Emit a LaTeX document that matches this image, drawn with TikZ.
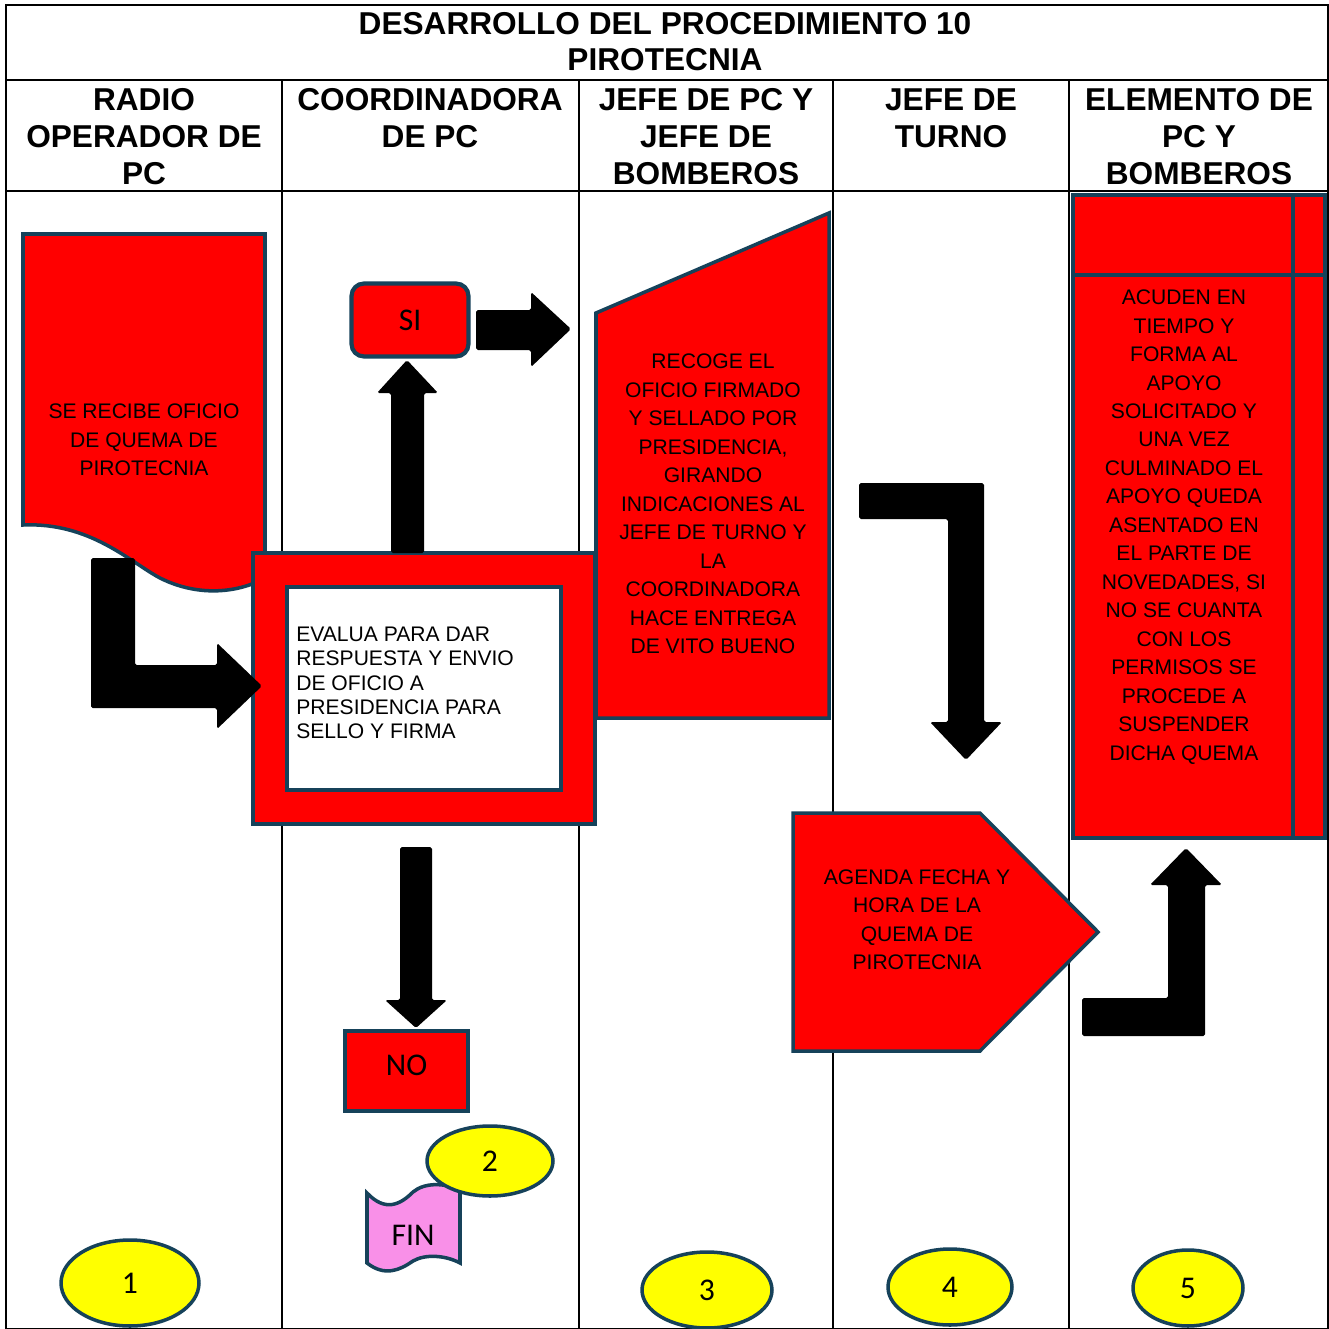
\documentclass[tikz,border=0pt]{standalone}
\usepackage{fontspec}
\setmainfont{Liberation Sans}
\newfontfamily\calibri{Carlito}
\usetikzlibrary{shapes.geometric}
\definecolor{rojo}{RGB}{255,0,0}
\definecolor{borde}{RGB}{22,66,90}
\definecolor{rosa}{RGB}{249,144,232}
\definecolor{amarillo}{RGB}{255,255,0}

\begin{document}
\begin{tikzpicture}[x=0.02cm, y=-0.02cm, every node/.style={inner sep=0pt},
		caja/.style={draw=borde, fill=rojo, line width=2pt},
		texto/.style={align=center, font=\fontsize{12}{16.2}\selectfont},
		encabezado/.style={align=center, anchor=north, font=\fontsize{18}{21}\selectfont\bfseries},
		flecha/.style={fill=black, rounded corners=1pt},
		numero/.style={ellipse, draw=borde, fill=amarillo, line width=2pt, font=\calibri\fontsize{18}{18}\selectfont}]
		% \draw[help lines, step=100] (0,0) grid (1329,1329);
		\useasboundingbox (0,0) rectangle (1329,1329);
		\fill[white] (0,0) rectangle (1329,1329);

		\draw[line width=0.9pt] (6,5) rectangle (1328,1329);
		\draw[line width=0.9pt] (6,80) -- (1328,80);
		\draw[line width=0.9pt] (6,191) -- (1328,191);
		\draw[line width=0.9pt] (282,80) -- (282,1329);
		\draw[line width=0.9pt] (579,80) -- (579,1329);
		\draw[line width=0.9pt] (833,80) -- (833,1329);
		\draw[line width=0.9pt] (1069,80) -- (1069,1329);

		\node (titulo) at (665,42) [align=center, font=\fontsize{18}{20.5}\selectfont\bfseries] {DESARROLLO DEL PROCEDIMIENTO 10\\PIROTECNIA};
		\node (c1) at (144,88) [encabezado] {RADIO\\OPERADOR DE\\PC};
		\node (c2) at (430,88) [encabezado] {COORDINADORA\\DE PC};
		\node (c3) at (706,88) [encabezado] {JEFE DE PC Y\\JEFE DE\\BOMBEROS};
		\node (c4) at (951,88) [encabezado] {JEFE DE\\TURNO};
		\node (c5) at (1199,88) [encabezado] {ELEMENTO DE\\PC Y\\BOMBEROS};

		% radio operador
		\draw[caja] (23,234) -- (265,234) -- (265,578) .. controls (240,592) and (200,598) .. (160,578) .. controls (130,562) and (90,522) .. (23,525) -- cycle;
		\node (oficio) at (144,440) [texto] {SE RECIBE OFICIO\\DE QUEMA DE\\PIROTECNIA};

		% coordinadora
		\node (evalua) at (424,688.5) [caja, minimum width=6.84cm, minimum height=5.42cm] {};
		\node (hoja) at (424,688.5) [draw=borde, fill=white, line width=2pt, minimum width=5.48cm, minimum height=4.06cm] {};
		\node (evaluatxt) at (296,683) [anchor=west, align=left, font=\fontsize{12}{13.8}\selectfont] {EVALUA PARA DAR\\RESPUESTA Y ENVIO\\DE OFICIO A\\PRESIDENCIA PARA\\SELLO Y FIRMA};
		\node (si) at (410,320) [caja, line width=2.4pt, rounded corners=0.25cm, minimum width=2.34cm, minimum height=1.46cm, font=\calibri\fontsize{18}{18}\selectfont] {SI};
		\node (no) at (406.5,1071) [caja, minimum width=2.46cm, minimum height=1.6cm] {};
		\node (notxt) at (406.5,1065) [font=\calibri\fontsize{18}{18}\selectfont] {NO};
		\draw[draw=borde, fill=rosa, line width=2pt] (367,1193) .. controls (385,1212) and (400,1205) .. (413,1192) .. controls (425,1182) and (445,1183) .. (460,1190) -- (460,1263) .. controls (445,1255) and (425,1254) .. (413,1261) .. controls (400,1270) and (385,1277) .. (367,1263) -- cycle;
		\node (fin) at (413,1235) [font=\calibri\fontsize{18}{18}\selectfont] {FIN};

		% jefe de pc
		\draw[caja] (596,313) -- (829,213) -- (829,718) -- (596,718) -- cycle;
		\node (recoge) at (713,504) [texto] {RECOGE EL\\OFICIO FIRMADO\\Y SELLADO POR\\PRESIDENCIA,\\GIRANDO\\INDICACIONES AL\\JEFE DE TURNO Y\\LA\\COORDINADORA\\HACE ENTREGA\\DE VITO BUENO};

		% jefe de turno
		\draw[caja] (793,813) -- (980,813) -- (1098,932) -- (980,1051) -- (793,1051) -- cycle;
		\node (agenda) at (917,919.5) [texto] {AGENDA FECHA Y\\HORA DE LA\\QUEMA DE\\PIROTECNIA};

		% elemento
		\draw[caja, line width=2.4pt] (1073,195) rectangle (1325,838);
		\draw[borde, line width=2.4pt] (1073,275) -- (1325,275);
		\draw[borde, line width=2.4pt] (1293,195) -- (1293,838);
		\node (acuden) at (1184,527) [texto] {ACUDEN EN\\TIEMPO Y\\FORMA AL\\APOYO\\SOLICITADO Y\\UNA VEZ\\CULMINADO EL\\APOYO QUEDA\\ASENTADO EN\\EL PARTE DE\\NOVEDADES, SI\\NO SE CUANTA\\CON LOS\\PERMISOS SE\\PROCEDE A\\SUSPENDER\\DICHA QUEMA};

		\fill[flecha] (91,558) -- (135,558) -- (135,665) -- (217,665) -- (217,643) -- (262,686) -- (217,729) -- (217,708) -- (91,708) -- cycle;
		\fill[flecha] (391,553) -- (391,393) -- (377,393) -- (407,360) -- (438,393) -- (424,393) -- (424,553) -- cycle;
		\fill[flecha] (476,310) -- (531,310) -- (531,292) -- (571,329) -- (531,367) -- (531,350) -- (476,350) -- cycle;
		\fill[flecha] (400,847) -- (432,847) -- (432,1000) -- (447,1000) -- (416,1028) -- (385,1000) -- (400,1000) -- cycle;
		\fill[flecha] (859,483) -- (984,483) -- (984,722) -- (1002,722) -- (966,760) -- (930,722) -- (948,722) -- (948,519) -- (859,519) -- cycle;
		\fill[flecha] (1082,998) -- (1168,998) -- (1168,885) -- (1150,885) -- (1186,848) -- (1222,885) -- (1205,885) -- (1205,1036) -- (1082,1036) -- cycle;

		\node (n1) at (130,1283) [numero, minimum width=2.76cm, minimum height=1.72cm] {1};
		\node (n2) at (490,1161) [numero, minimum width=2.52cm, minimum height=1.4cm] {2};
		\node (n3) at (707,1290) [numero, minimum width=2.6cm, minimum height=1.52cm] {3};
		\node (n4) at (950,1287) [numero, minimum width=2.48cm, minimum height=1.52cm] {4};
		\node (n5) at (1188,1288) [numero, minimum width=2.2cm, minimum height=1.52cm] {5};
	\end{tikzpicture}
\end{document}
